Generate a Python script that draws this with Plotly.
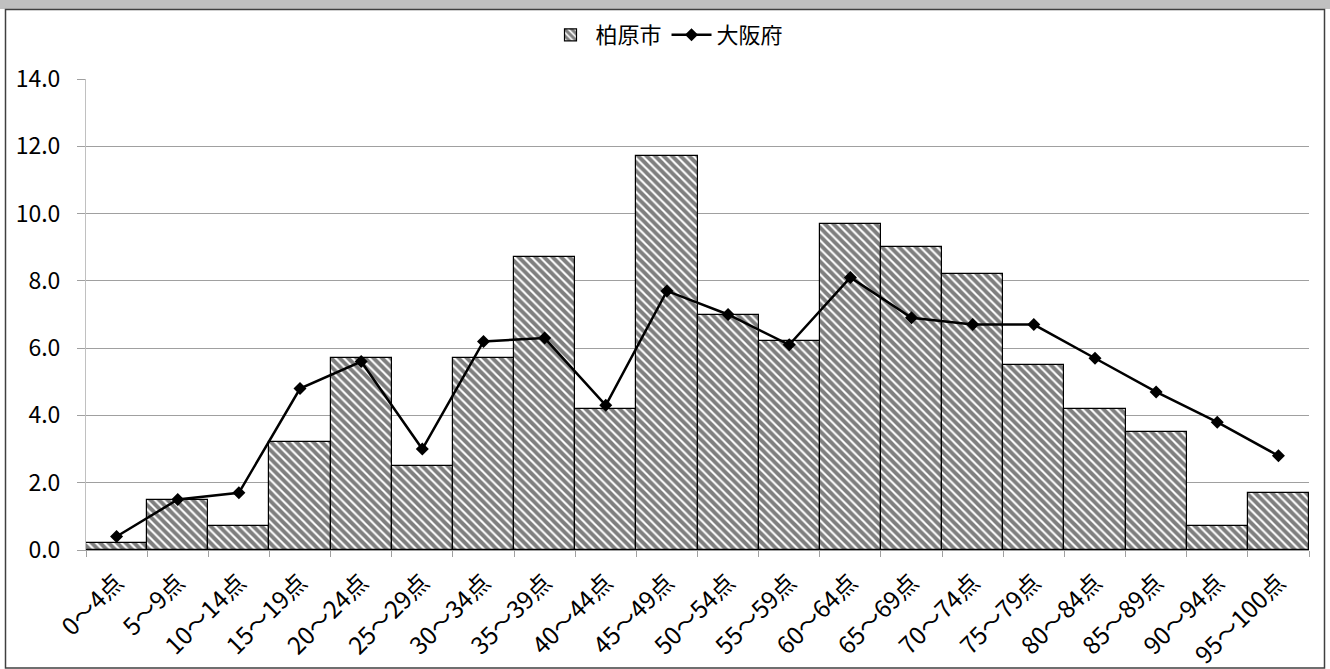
import plotly.graph_objects as go

categories = ["0～4点", "5～9点", "10～14点", "15～19点", "20～24点", "25～29点", "30～34点",
              "35～39点", "40～44点", "45～49点", "50～54点", "55～59点", "60～64点", "65～69点",
              "70～74点", "75～79点", "80～84点", "85～89点", "90～94点", "95～100点"]
kashiwara = [0.2, 1.5, 0.7, 3.2, 5.7, 2.5, 5.7, 8.7, 4.2, 11.7, 7.0, 6.2, 9.7, 9.0, 8.2, 5.5, 4.2, 3.5, 0.7, 1.7]
osaka = [0.4, 1.5, 1.7, 4.8, 5.6, 3.0, 6.2, 6.3, 4.3, 7.7, 7.0, 6.1, 8.1, 6.9, 6.7, 6.7, 5.7, 4.7, 3.8, 2.8]
yticks = [0, 2, 4, 6, 8, 10, 12, 14]

FONT = "Noto Sans CJK JP"
W, H = 1330, 669
L, R, T, B = 86, 21, 79, 119
pw, ph = W - L - R, H - T - B

def px(x):
    return (x - L) / pw

def py(y):
    return (H - B - y) / ph

fig = go.Figure()
fig.add_trace(go.Bar(
    x=categories, y=kashiwara, name="柏原市", width=1,
    marker=dict(color="white", line=dict(color="black", width=1.2),
                pattern=dict(shape="\\", fgcolor="black", bgcolor="white", size=6, solidity=0.65)),
))
fig.add_trace(go.Scatter(
    x=categories, y=osaka, name="大阪府", mode="lines+markers",
    line=dict(color="black", width=2.5),
    marker=dict(symbol="diamond", size=10, color="black"),
))

shapes = [
    dict(type="rect", xref="paper", yref="paper", x0=px(0), x1=px(W), y0=py(9), y1=py(0),
         fillcolor="#c0c0c0", line=dict(width=0), layer="below"),
    dict(type="rect", xref="paper", yref="paper", x0=px(5.5), x1=px(1324.5), y0=py(668), y1=py(9.5),
         fillcolor="rgba(0,0,0,0)", line=dict(color="#404040", width=1.5), layer="below"),
]

fig.update_layout(
    width=W, height=H,
    margin=dict(l=L, r=R, t=T, b=B, autoexpand=False),
    paper_bgcolor="white", plot_bgcolor="white",
    font=dict(family=FONT, size=22, color="black"),
    bargap=0,
    showlegend=True,
    legend=dict(orientation="h", x=px(667), xanchor="center", y=py(35), yanchor="middle",
                font=dict(size=22), traceorder="normal", itemwidth=40),
    shapes=shapes,
    xaxis=dict(type="category", tickson="boundaries", ticks="outside", ticklen=6,
               range=[-0.5, 19.5], automargin=False,
               tickcolor="#a0a0a0", showline=True, linecolor="#a0a0a0", showgrid=False,
               tickangle=-45, tickfont=dict(size=24), ticklabelstandoff=8),
    yaxis=dict(range=[0, 14], tickvals=yticks, tickformat=".1f", showgrid=True,
               gridcolor="#a0a0a0", gridwidth=1, showline=True, linecolor="#c0c0c0",
               automargin=False,
               ticks="outside", ticklen=8, tickcolor="#a0a0a0", zeroline=False,
               tickfont=dict(size=23), ticklabelstandoff=12),
)

fig.write_html("out.html")
